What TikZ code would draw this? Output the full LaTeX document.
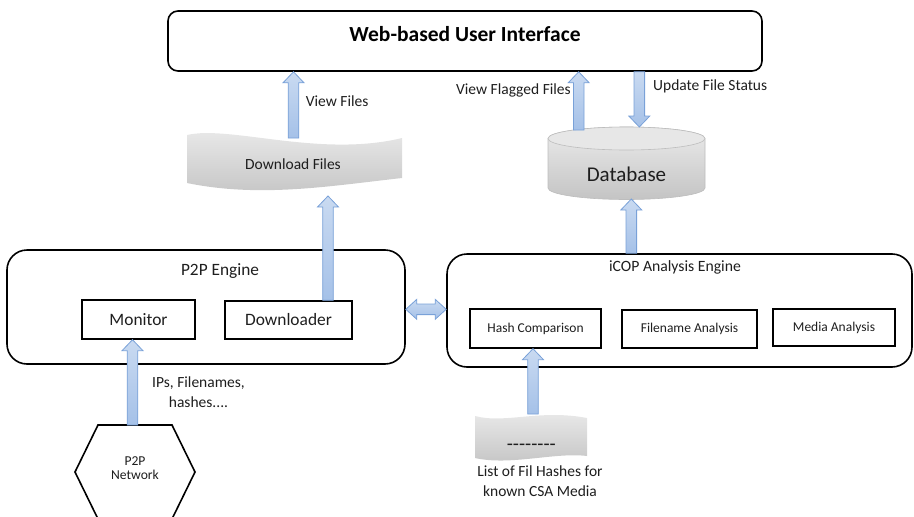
\documentclass[tikz,border=0pt]{standalone}
\usepackage{fontspec}
\setmainfont{Carlito}
\usetikzlibrary{calc}
\definecolor{arrA}{HTML}{C9DAF1}
\definecolor{arrB}{HTML}{A5C1E8}
\definecolor{arrC}{HTML}{79A1D8}
\definecolor{grA}{HTML}{EBEBEB}
\definecolor{grB}{HTML}{C4C4C4}
\definecolor{grC}{HTML}{BDBDBD}
\definecolor{txt}{HTML}{1E1E1E}
\tikzset{
  container/.style={draw=black, line width=1.6pt, rounded corners=20pt, inner sep=0pt},
  module/.style={draw=black, line width=1.4pt, inner sep=0pt, text=txt, font=\fontsize{17.4}{20}\selectfont},
  submodule/.style={draw=black, line width=1.4pt, inner sep=0pt, text=txt, font=\fontsize{13.5}{16}\selectfont},
  lbl/.style={inner sep=0pt, text=txt, align=center, font=\fontsize{15.5}{19.8}\selectfont},
  barrow/.style={top color=arrA, bottom color=arrB, draw=arrC, line width=0.8pt},
  tape/.style={top color=grA, bottom color=grB, draw=none},
}
% vertical block arrow pointing up: #1 = x, #2 = bottom, #3 = top (tip)
\newcommand\arrUp[3]{\path[barrow] let \p1=#2, \p2=#3 in
  (#1pt-5.3pt,\y1) -- (#1pt-5.3pt,\y2-11pt) -- (#1pt-10.5pt,\y2-11pt) -- (#1pt,\y2)
  -- (#1pt+10.5pt,\y2-11pt) -- (#1pt+5.3pt,\y2-11pt) -- (#1pt+5.3pt,\y1) -- cycle;}
% vertical block arrow pointing down: #1 = x, #2 = top, #3 = bottom (tip)
\newcommand\arrDown[3]{\path[barrow] let \p1=#2, \p2=#3 in
  (#1pt-5.3pt,\y1) -- (#1pt-5.3pt,\y2+11pt) -- (#1pt-10.5pt,\y2+11pt) -- (#1pt,\y2)
  -- (#1pt+10.5pt,\y2+11pt) -- (#1pt+5.3pt,\y2+11pt) -- (#1pt+5.3pt,\y1) -- cycle;}
% horizontal double block arrow: #1 = y, #2 = left, #3 = right
\newcommand\arrBoth[3]{\path[barrow] let \p1=#2, \p2=#3 in
  (\x1,-#1pt) -- (\x1+11pt,-#1pt+10pt) -- (\x1+11pt,-#1pt+5.3pt) -- (\x2-11pt,-#1pt+5.3pt)
  -- (\x2-11pt,-#1pt+10pt) -- (\x2,-#1pt) -- (\x2-11pt,-#1pt-10pt) -- (\x2-11pt,-#1pt-5.3pt)
  -- (\x1+11pt,-#1pt-5.3pt) -- (\x1+11pt,-#1pt-10pt) -- cycle;}
\newcommand\hy{-\kern0pt}
\begin{document}
\begin{tikzpicture}[x=1pt,y=-1pt]
\useasboundingbox (0,0) rectangle (914,517);

% top interface
\node[draw=black, line width=1.6pt, rounded corners=10pt, inner sep=0pt,
      minimum width=594pt, minimum height=60pt, text=black,
      font=\bfseries\fontsize{21.5}{24}\selectfont, text height=15pt, text depth=13.5pt]
      (ui) at (465,41) {Web-based User Interface};

% download files (punched tape)
\path[tape] (187,135) .. controls (230,125) and (320,158) .. (402,138)
  -- (402,178) .. controls (330,186) and (260,198) .. (187,183) -- cycle;
\node[lbl] (dlf) at (293,164.5) {Download Files};
\coordinate (dlin) at (293.5,138);
\coordinate (dlout) at (328,196);

% database cylinder
\path[top color=grA, bottom color=grB, draw=grC, line width=0.6pt]
  (548,138.5) -- (548,188) arc[start angle=180, end angle=360, x radius=78.5pt, y radius=11.5pt]
  -- (705,138.5) arc[start angle=0, end angle=180, x radius=78.5pt, y radius=11.5pt] -- cycle;
\draw[fill=grA!90!grB, draw=grC, line width=0.6pt] (626.5,138.5) ellipse[x radius=78.5pt, y radius=11.5pt];
\node[inner sep=0pt, text=txt, font=\fontsize{21}{24}\selectfont] (db) at (626.5,174) {Database};
\coordinate (dbtopL) at (578.7,130);
\coordinate (dbtopR) at (639.3,127);
\coordinate (dbbot) at (631.3,199);

% P2P engine
\node[container, minimum width=398pt, minimum height=114pt] (p2p) at (206,307) {};
\node[lbl, font=\fontsize{17.3}{20}\selectfont, anchor=base] (p2pt) at (220,275) {P2P Engine};
\node[module, minimum width=113pt, minimum height=39pt] (mon) at (138.5,319.5) {Monitor};
\node[module, minimum width=127pt, minimum height=38pt] (dl) at (288.5,320) {Downloader};

% iCOP analysis engine
\node[container, minimum width=465pt, minimum height=113pt] (icop) at (679.5,310.5) {};
\node[lbl, font=\fontsize{15.7}{19}\selectfont, anchor=base] (icopt) at (675,271.7) {iCOP Analysis Engine};
\node[submodule, minimum width=131pt, minimum height=39pt] (hash) at (535.5,328.5) {Hash Comparison};
\node[submodule, minimum width=135pt, minimum height=38pt] (fna) at (689.5,329) {Filename Analysis};
\node[submodule, minimum width=122pt, minimum height=37pt] (med) at (834,327.5) {Media Analysis};

% list of hashes (punched tape)
\path[tape] (475,416) .. controls (505,424) and (540,409) .. (587,418)
  -- (587,456) .. controls (555,452) and (510,466) .. (475,458) -- cycle;
\node[inner sep=0pt, text=txt, font=\fontsize{20}{24}\selectfont, anchor=base] (dash) at (531.3,450.5) {\hy\hy\hy\hy\hy\hy\hy-};
\node[lbl, anchor=base] (listlbl) at (540,496.7) {List of Fil Hashes for\\known CSA Media};
\coordinate (listtop) at (533,414);

% P2P network hexagon
\draw[line width=1.6pt] (98,425) -- (172,425) -- (195,472) -- (172,519) -- (98,519) -- (75,472) -- cycle;
\node[inner sep=0pt, text=txt, align=center, font=\fontsize{13.6}{13.5}\selectfont, anchor=base] (net) at (135,479) {P2P\\Network};
\coordinate (nettop) at (132.5,425);

% arrows
\arrUp{293.5}{(dlin)}{(ui.south)}
\arrUp{328}{(dl.north)}{(dlout)}
\arrUp{578.7}{(dbtopL)}{(ui.south)}
\arrDown{639.3}{(ui.south)}{(dbtopR)}
\arrUp{631.3}{(icop.north)}{(dbbot)}
\arrUp{132.5}{(nettop)}{(mon.south)}
\arrUp{533}{(listtop)}{(hash.south)}
\arrBoth{309.3}{(p2p.east)}{(icop.west)}

% arrow labels
\node[lbl, anchor=base west] (lviewf) at (305.7,106) {View Files};
\node[lbl, anchor=base east] (lflag) at (571,94.3) {View Flagged Files};
\node[lbl, anchor=base west] (lupd) at (653,90.7) {Update File Status};
\node[lbl, anchor=base] (lips) at (198.5,407) {IPs, Filenames,\\hashes....};
\end{tikzpicture}
\end{document}
